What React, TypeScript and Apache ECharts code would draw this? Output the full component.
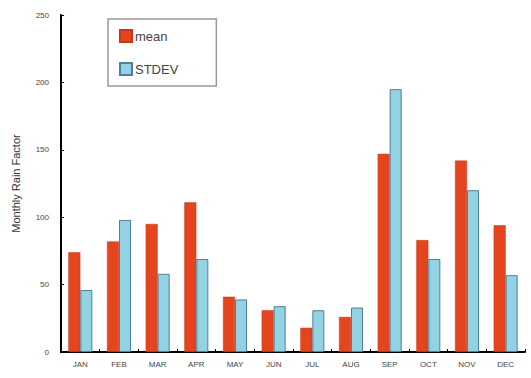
import React, { useEffect, useRef } from "react";
import * as echarts from "echarts";

const months = ["JAN", "FEB", "MAR", "APR", "MAY", "JUN", "JUL", "AUG", "SEP", "OCT", "NOV", "DEC"];
const meanValues = [74, 82, 95, 111, 41, 31, 18, 26, 147, 83, 142, 94];
const stdevValues = [46, 98, 58, 69, 39, 34, 31, 33, 195, 69, 120, 57];
const yTicks = [0, 50, 100, 150, 200, 250];

export default function App() {
  const ref = useRef<HTMLDivElement>(null);
  useEffect(() => {
    if (!ref.current) return;
    const chart = echarts.init(ref.current, null, { renderer: "svg" });
    chart.setOption({
      animation: false,
      backgroundColor: "#ffffff",
      textStyle: { fontFamily: "Liberation Sans, Arial, sans-serif" },
      legend: {
        orient: "vertical",
        left: 108,
        top: 19,
        itemWidth: 12,
        itemHeight: 12,
        itemGap: 19,
        padding: [10, 38, 10, 11],
        borderColor: "#999",
        borderWidth: 1.5,
        textStyle: { fontSize: 13, color: "#444", padding: [0, 0, 0, -2] },
        data: [
          { name: "mean", icon: "rect" },
          { name: "STDEV", icon: "rect" },
        ],
      },
      grid: { left: 61, right: 6, top: 15, bottom: 26, containLabel: false },
      xAxis: {
        type: "category",
        data: months,
        axisLine: { lineStyle: { color: "#000", width: 2 } },
        axisTick: { show: true, inside: true, length: 3, lineStyle: { color: "#000" } },
        axisLabel: { fontSize: 8, color: "#444", margin: 8 },
      },
      yAxis: {
        type: "value",
        min: yTicks[0],
        max: yTicks[yTicks.length - 1],
        interval: 50,
        name: "Monthly Rain Factor",
        nameLocation: "middle",
        nameRotate: 90,
        nameGap: 40,
        nameTextStyle: { fontSize: 11, color: "#333" },
        axisLine: { show: true, lineStyle: { color: "#000", width: 2 } },
        axisTick: { show: true, inside: true, length: 3, lineStyle: { color: "#000" } },
        axisLabel: { fontSize: 8, color: "#444", margin: 12 },
        splitLine: { show: false },
      },
      series: [
        {
          name: "mean",
          type: "bar",
          data: meanValues,
          barWidth: 12,
          barGap: "0%",
          itemStyle: { color: "#e4441e", borderColor: "#c8371a", borderWidth: 0.5 },
        },
        {
          name: "STDEV",
          type: "bar",
          data: stdevValues,
          barWidth: 12,
          barGap: "0%",
          itemStyle: { color: "#93d2e3", borderColor: "#4e7f9c", borderWidth: 1 },
        },
      ],
    });
    return () => chart.dispose();
  }, []);
  return <div ref={ref} style={{ width: 531, height: 378, position: "absolute", left: 0, top: 0 }} />;
}
